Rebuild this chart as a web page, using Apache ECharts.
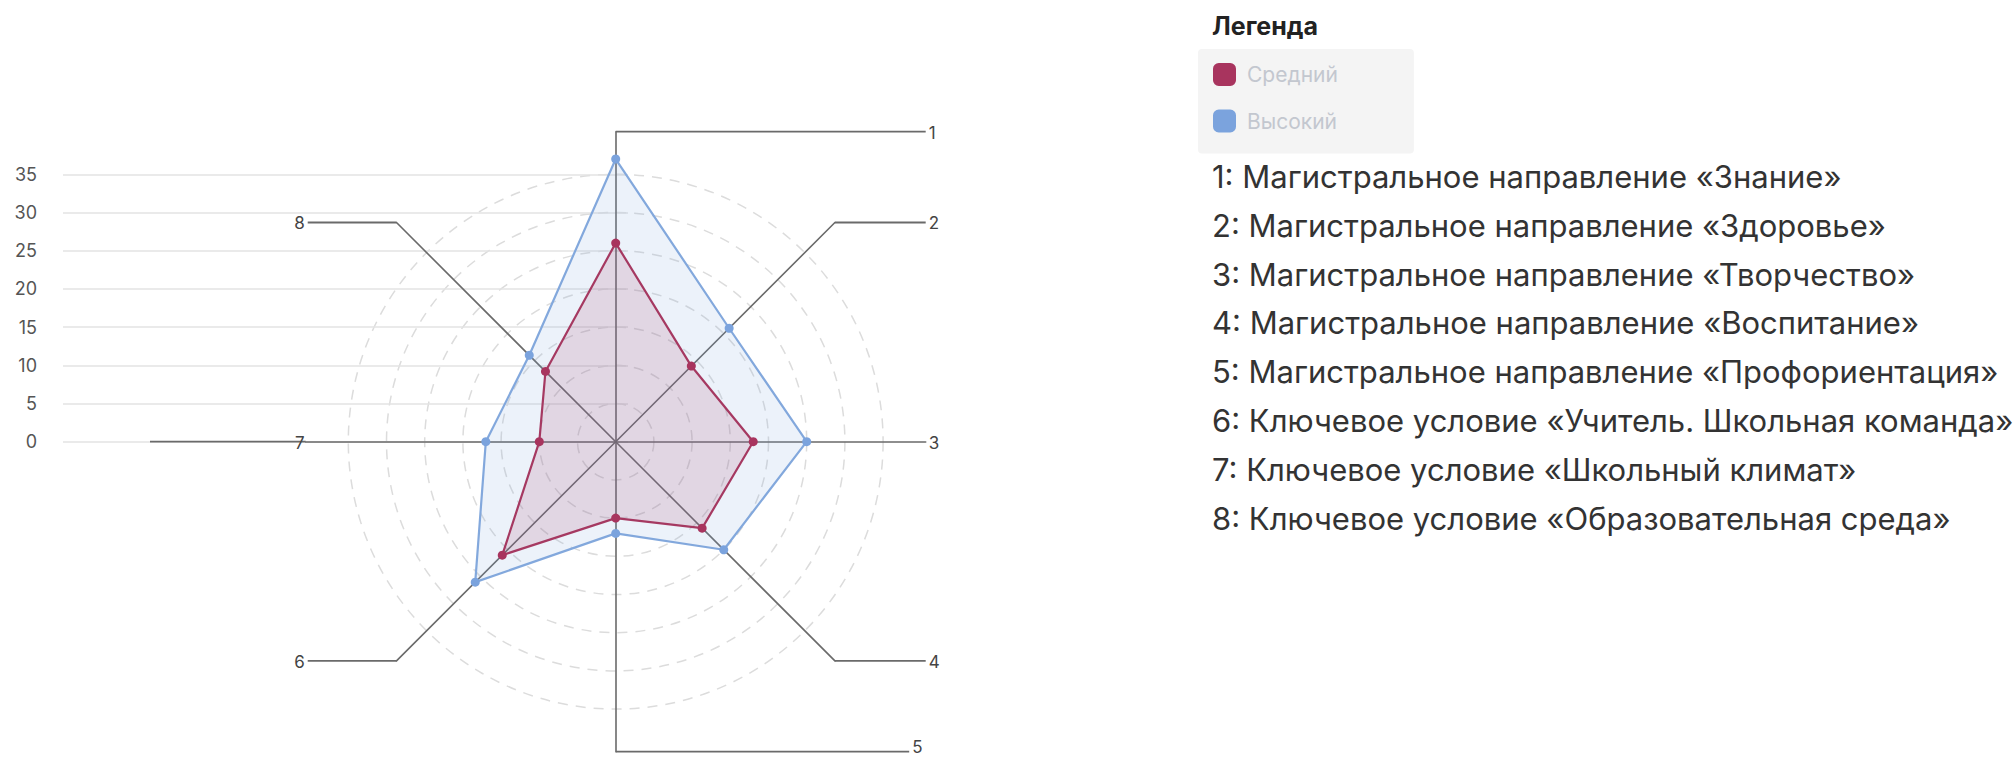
<!DOCTYPE html>
<html>
<head>
<meta charset="utf-8">
<script src="https://cdn.jsdelivr.net/npm/echarts@6/dist/echarts.min.js"></script>
<style>
html,body{margin:0;padding:0;background:#ffffff;}
#chart{width:2015px;height:760px;}
</style>
</head>
<body>
<div id="chart"></div>
<script>
// ---------- data ----------
const axisKeys = ['1', '2', '3', '4', '5', '6', '7', '8'];
const axisDescriptions = [
  '1: Магистральное направление «Знание»',
  '2: Магистральное направление «Здоровье»',
  '3: Магистральное направление «Творчество»',
  '4: Магистральное направление «Воспитание»',
  '5: Магистральное направление «Профориентация»',
  '6: Ключевое условие «Учитель. Школьная команда»',
  '7: Ключевое условие «Школьный климат»',
  '8: Ключевое условие «Образовательная среда»'
];
const seriesNames = ['Средний', 'Высокий'];
const mediumValues = [26, 14, 18, 16, 10, 21, 10, 13];
const highValues = [37, 21, 25, 20, 12, 26, 17, 16];
const legendTitle = 'Легенда';
const yTickMin = 0;
const yTickMax = 35;
const yTickStep = 5;
const radarMax = 40;

// ---------- layout ----------
const CX = 615.7, CY = 441.7;
const PX_PER_UNIT = 7.64;
const R_DATA = radarMax * PX_PER_UNIT;
const R_AXIS = 310;
const FONT = 'Inter, "Noto Sans", Roboto, sans-serif';

// ECharts lays radar indicators counter-clockwise; reorder for clockwise layout
const order = [0, 7, 6, 5, 4, 3, 2, 1];
const reorder = arr => order.map(i => arr[i]);

const chart = echarts.init(document.getElementById('chart'), null, {renderer: 'svg'});

const indicators = reorder(axisKeys).map(k => ({name: k, min: 0, max: radarMax}));

// split circle colors: every 5 units up to 35, the outer 40 ring hidden
const ringColors = [];
for (let v = 0; v <= radarMax; v += yTickStep) ringColors.push(v <= yTickMax ? '#dcdcdc' : 'rgba(0,0,0,0)');

// leader lines and axis key labels
const lineColor = '#6a6a6a';
const graphics = [];
const leaderTargets = [R_AXIS, R_AXIS, R_AXIS, R_AXIS, 293.5, -R_AXIS + 2, -465.7, -R_AXIS + 2];
axisKeys.forEach((key, k) => {
  const a = (90 - 45 * k) * Math.PI / 180;
  const ex = CX + R_AXIS * Math.cos(a);
  const ey = CY - R_AXIS * Math.sin(a);
  const tx = CX + leaderTargets[k];
  graphics.push({
    type: 'polyline', z: 5, silent: true,
    shape: {points: [[ex, ey], [tx, ey]]},
    style: {stroke: lineColor, lineWidth: 1.8, fill: null}
  });
  const right = k <= 4;
  const lx = right ? tx + 3 : CX - R_AXIS - 1;
  const ly = k === 4 ? ey - 5 : ey + 1;
  graphics.push({
    type: 'text', z: 6, silent: true,
    style: {
      text: key, x: lx, y: ly,
      fill: '#444', font: '17px ' + FONT,
      textAlign: right ? 'left' : 'right', textVerticalAlign: 'middle',
      align: right ? 'left' : 'right', verticalAlign: 'middle'
    }
  });
});

const option = {
  backgroundColor: '#ffffff',
  animation: false,
  textStyle: {fontFamily: FONT},
  title: [
    {
      text: legendTitle, left: 1212, top: 13, padding: 0,
      textStyle: {fontSize: 25, fontWeight: 'bold', color: '#222', fontFamily: FONT}
    },
    {
      text: axisDescriptions.join('\n'), left: 1212, top: 152, padding: 0,
      textStyle: {fontSize: 31, fontWeight: 'normal', color: '#333', lineHeight: 48.8, fontFamily: FONT}
    }
  ],
  legend: {
    data: seriesNames,
    orient: 'vertical',
    left: 1198, top: 49,
    padding: [14, 76, 21, 15],
    backgroundColor: '#f4f4f4',
    borderRadius: 4,
    itemWidth: 23, itemHeight: 23, itemGap: 23.5,
    icon: 'roundRect',
    selectedMode: false,
    textStyle: {color: '#c3c7cf', fontSize: 21, fontFamily: FONT, padding: [0, 0, 0, 6]}
  },
  grid: {left: 63, top: CY - yTickMax * PX_PER_UNIT, width: 565, height: yTickMax * PX_PER_UNIT, containLabel: false},
  xAxis: {type: 'value', min: 0, max: 1, show: false},
  yAxis: {
    type: 'value', min: yTickMin, max: yTickMax, interval: yTickStep,
    axisLine: {show: false}, axisTick: {show: false},
    axisLabel: {margin: 26, fontSize: 18, color: '#555', fontFamily: FONT},
    splitLine: {lineStyle: {color: '#e3e3e3', width: 1.5}}
  },
  radar: [
    {
      center: [CX, CY], radius: R_DATA, startAngle: 90, shape: 'circle',
      splitNumber: radarMax / yTickStep,
      indicator: indicators,
      axisName: {show: false},
      axisLine: {show: false},
      axisTick: {show: false},
      axisLabel: {show: false},
      splitArea: {show: false},
      splitLine: {lineStyle: {color: ringColors, width: 1.5, type: [10, 8]}}
    },
    {
      center: [CX, CY], radius: R_AXIS, startAngle: 90, shape: 'circle',
      splitNumber: 1,
      indicator: indicators,
      axisName: {show: false},
      axisLine: {show: true, lineStyle: {color: lineColor, width: 1.6}},
      axisTick: {show: false},
      axisLabel: {show: false},
      splitArea: {show: false},
      splitLine: {show: false}
    }
  ],
  series: [
    {
      type: 'radar', radarIndex: 0, z: 3,
      symbol: 'circle', symbolSize: 9,
      data: [
        {
          name: seriesNames[1], value: reorder(highValues),
          itemStyle: {color: '#7ba3dd'},
          lineStyle: {color: '#84a9dd', width: 2.2},
          areaStyle: {color: 'rgba(123,163,221,0.2)'}
        }
      ]
    },
    {
      type: 'radar', radarIndex: 0, z: 4,
      symbol: 'circle', symbolSize: 9,
      data: [
        {
          name: seriesNames[0], value: reorder(mediumValues),
          itemStyle: {color: '#a8345e'},
          lineStyle: {color: '#a63a62', width: 2.2},
          areaStyle: {color: 'rgba(160,50,95,0.2)'}
        }
      ]
    }
  ],
  graphic: graphics
};

chart.setOption(option);
</script>
</body>
</html>
